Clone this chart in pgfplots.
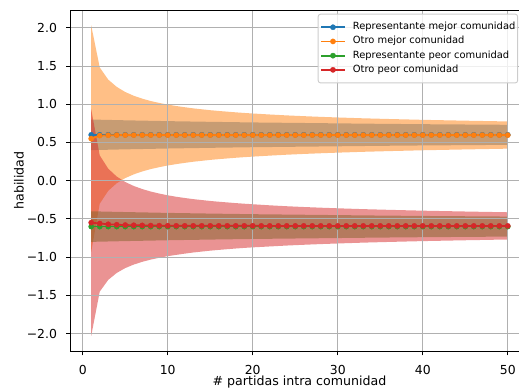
\documentclass[border=0pt]{standalone}
\usepackage{fontspec}
\setmainfont{DejaVu Sans}
\usepackage{pgfplots}
\pgfplotsset{compat=1.18}
\usepackage{pgfplotstable}

\definecolor{tabblue}{HTML}{1F77B4}
\definecolor{taborange}{HTML}{FF7F0E}
\definecolor{tabgreen}{HTML}{2CA02C}
\definecolor{tabred}{HTML}{D62728}
\definecolor{gridgray}{HTML}{B0B0B0}
\definecolor{legframe}{HTML}{CCCCCC}

\pgfplotstableread{
x blue orange green red
1 0.600 0.550 -0.600 -0.548
2 0.600 0.590 -0.600 -0.560
3 0.600 0.594 -0.600 -0.570
4 0.600 0.596 -0.600 -0.576
5 0.600 0.596 -0.600 -0.580
6 0.600 0.596 -0.600 -0.583
7 0.600 0.596 -0.600 -0.585
8 0.600 0.596 -0.600 -0.587
9 0.600 0.596 -0.600 -0.588
10 0.600 0.596 -0.600 -0.589
11 0.600 0.596 -0.600 -0.590
12 0.600 0.596 -0.600 -0.590
13 0.600 0.596 -0.600 -0.590
14 0.600 0.596 -0.600 -0.590
15 0.600 0.596 -0.600 -0.590
16 0.600 0.596 -0.600 -0.590
17 0.600 0.596 -0.600 -0.590
18 0.600 0.596 -0.600 -0.590
19 0.600 0.596 -0.600 -0.590
20 0.600 0.596 -0.600 -0.590
21 0.600 0.596 -0.600 -0.591
22 0.600 0.596 -0.600 -0.591
23 0.600 0.596 -0.600 -0.591
24 0.600 0.596 -0.600 -0.591
25 0.600 0.596 -0.600 -0.591
26 0.600 0.596 -0.600 -0.591
27 0.600 0.596 -0.600 -0.591
28 0.600 0.596 -0.600 -0.591
29 0.600 0.596 -0.600 -0.591
30 0.600 0.596 -0.600 -0.591
31 0.600 0.596 -0.600 -0.591
32 0.600 0.596 -0.600 -0.591
33 0.600 0.596 -0.600 -0.591
34 0.600 0.596 -0.600 -0.591
35 0.600 0.596 -0.600 -0.591
36 0.600 0.596 -0.600 -0.591
37 0.600 0.596 -0.600 -0.591
38 0.600 0.596 -0.600 -0.591
39 0.600 0.596 -0.600 -0.591
40 0.600 0.596 -0.600 -0.591
41 0.600 0.596 -0.600 -0.591
42 0.600 0.596 -0.600 -0.591
43 0.600 0.596 -0.600 -0.591
44 0.600 0.596 -0.600 -0.591
45 0.600 0.596 -0.600 -0.591
46 0.600 0.596 -0.600 -0.591
47 0.600 0.596 -0.600 -0.591
48 0.600 0.596 -0.600 -0.591
49 0.600 0.596 -0.600 -0.591
50 0.600 0.596 -0.600 -0.591
}\lines

\begin{document}
\begin{tikzpicture}
\begin{axis}[
  set layers,
  scale only axis,
  width=458.2pt, height=341pt,
  xmin=-1.45, xmax=52.45, ymin=-2.23, ymax=2.23,
  xtick={0,10,20,30,40,50},
  xticklabels={0,10,20,30,40,50},
  ytick={-2,-1.5,-1,-0.5,0,0.5,1,1.5,2},
  yticklabels={−2.0,−1.5,−1.0,−0.5,0.0,0.5,1.0,1.5,2.0},
  grid=major,
  major grid style={gridgray, line width=0.95pt},
  tick align=outside,
  tick pos=left,
  major tick length=4.1pt,
  every tick/.style={black, line width=0.95pt},
  axis line style={black, line width=0.95pt},
  tick label style={font=\fontsize{12.4}{14}\selectfont},
  xticklabel style={anchor=north, inner sep=0pt, yshift=-9.6pt},
  yticklabel style={anchor=east, inner sep=0pt, xshift=-9.2pt},
  xlabel={\# partidas intra comunidad},
  ylabel={habilidad},
  every axis x label/.style={at={(axis description cs:0.5,-0.0715)}, anchor=north, inner sep=0pt, font=\fontsize{12.6}{14}\selectfont},
  every axis y label/.style={at={(axis description cs:-0.1013,0.5)}, rotate=90, anchor=south, inner sep=0pt, font=\fontsize{12.6}{14}\selectfont},
  legend cell align=left,
  legend image code/.code={\draw[mark repeat=2, mark phase=2, fill opacity=1, #1] plot coordinates {(0pt,0pt)(11.65pt,0pt)(23.3pt,0pt)};},
  legend style={at={(axis description cs:0.5397,1)}, anchor=north west, yshift=-3.5pt,
    draw=legframe, line width=0.9pt, rounded corners=2.5pt, fill=white, fill opacity=0.8, text opacity=1, draw opacity=1,
    font=\fontsize{9.9}{11}\selectfont, inner xsep=2.3pt, inner ysep=6pt, row sep=0pt, column sep=7.4pt,
    nodes={inner xsep=0pt, inner ysep=1.6pt, text height=8pt, text depth=3pt}},
]
% uncertainty bands
\addplot[forget plot, on layer=axis background, fill=tabblue, fill opacity=0.5, draw=none] coordinates {
(1,0.800)(5,0.790)(10,0.779)(15,0.770)(20,0.762)(25,0.756)(30,0.750)(35,0.744)(40,0.739)(45,0.735)(50,0.731)
(50,0.469)(45,0.465)(40,0.461)(35,0.456)(30,0.450)(25,0.444)(20,0.438)(15,0.430)(10,0.421)(5,0.410)(1,0.400)} -- cycle;
\addplot[forget plot, on layer=axis background, fill=taborange, fill opacity=0.5, draw=none] coordinates {
(1,2.030)(2,1.481)(3,1.322)(4,1.227)(5,1.160)(6,1.111)(7,1.073)(8,1.042)(9,1.017)(10,0.995)(11,0.977)(12,0.961)(13,0.946)(14,0.934)(15,0.922)(16,0.912)(17,0.903)(18,0.894)(19,0.886)(20,0.879)(22,0.866)(24,0.854)(26,0.844)(28,0.835)(30,0.827)(33,0.816)(36,0.807)(40,0.796)(45,0.785)(50,0.775)
(50,0.419)(45,0.409)(40,0.398)(36,0.387)(33,0.378)(30,0.367)(28,0.359)(26,0.350)(24,0.340)(22,0.328)(20,0.315)(19,0.308)(18,0.300)(17,0.291)(16,0.282)(15,0.272)(14,0.260)(13,0.248)(12,0.233)(11,0.217)(10,0.199)(9,0.177)(8,0.152)(7,0.121)(6,0.083)(5,0.034)(4,-0.033)(3,-0.132)(2,-0.301)(1,-0.930)} -- cycle;
\addplot[forget plot, on layer=axis background, fill=tabgreen, fill opacity=0.5, draw=none] coordinates {
(1,-0.400)(5,-0.410)(10,-0.421)(15,-0.430)(20,-0.438)(25,-0.444)(30,-0.450)(35,-0.456)(40,-0.461)(45,-0.465)(50,-0.469)
(50,-0.731)(45,-0.735)(40,-0.739)(35,-0.744)(30,-0.750)(25,-0.756)(20,-0.762)(15,-0.770)(10,-0.779)(5,-0.790)(1,-0.800)} -- cycle;
\addplot[forget plot, on layer=axis background, fill=tabred, fill opacity=0.5, draw=none] coordinates {
(1,0.932)(2,0.331)(3,0.157)(4,0.054)(5,-0.017)(6,-0.069)(7,-0.109)(8,-0.142)(9,-0.168)(10,-0.191)(11,-0.210)(12,-0.226)(13,-0.241)(14,-0.253)(15,-0.265)(16,-0.275)(17,-0.284)(18,-0.293)(19,-0.301)(20,-0.308)(22,-0.322)(24,-0.334)(26,-0.344)(28,-0.353)(30,-0.361)(33,-0.372)(36,-0.381)(40,-0.392)(45,-0.403)(50,-0.413)
(50,-0.769)(45,-0.779)(40,-0.790)(36,-0.801)(33,-0.810)(30,-0.821)(28,-0.829)(26,-0.838)(24,-0.848)(22,-0.860)(20,-0.872)(19,-0.879)(18,-0.887)(17,-0.896)(16,-0.905)(15,-0.915)(14,-0.927)(13,-0.939)(12,-0.954)(11,-0.970)(10,-0.987)(9,-1.008)(8,-1.032)(7,-1.061)(6,-1.097)(5,-1.143)(4,-1.206)(3,-1.297)(2,-1.451)(1,-2.028)} -- cycle;
% lines
\addplot[tabblue, line width=1.77pt, mark=*, mark size=2.7pt, mark options={solid, fill=tabblue, draw=tabblue, line width=0.2pt}] table[x=x, y=blue]{\lines};
\addlegendentry{Representante mejor comunidad}
\addplot[taborange, line width=1.77pt, mark=*, mark size=2.7pt, mark options={solid, fill=taborange, draw=taborange, line width=0.2pt}] table[x=x, y=orange]{\lines};
\addlegendentry{Otro mejor comunidad}
\addplot[tabgreen, line width=1.77pt, mark=*, mark size=2.7pt, mark options={solid, fill=tabgreen, draw=tabgreen, line width=0.2pt}] table[x=x, y=green]{\lines};
\addlegendentry{Representante peor comunidad}
\addplot[tabred, line width=1.77pt, mark=*, mark size=2.7pt, mark options={solid, fill=tabred, draw=tabred, line width=0.2pt}] table[x=x, y=red]{\lines};
\addlegendentry{Otro peor comunidad}
\coordinate (SW) at (rel axis cs:0,0);
\end{axis}
\pgfresetboundingbox
\path[use as bounding box] ([shift={(-70.4pt,-39.8pt)}]SW) rectangle ([shift={(448.6pt,351.2pt)}]SW);
\end{tikzpicture}
\end{document}
